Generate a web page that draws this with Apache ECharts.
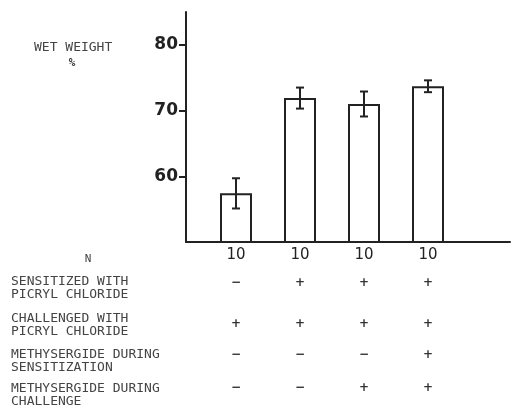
<!DOCTYPE html>
<html>
<head>
<meta charset="utf-8">
<style>
  html, body { margin: 0; padding: 0; background: #fff; }
  #chart { width: 511px; height: 408px; }
</style>
<script src="https://cdn.jsdelivr.net/npm/echarts@6/dist/echarts.min.js"></script>
</head>
<body>
<div id="chart"></div>
<script>
// Treatment groups (one bar each)
const categories = ['Group 1', 'Group 2', 'Group 3', 'Group 4'];
// Mean wet weight (%) and standard error per group
const meanWetWeight = [57.4, 71.9, 71.0, 73.7];
const stdError = [2.3, 1.6, 1.9, 0.9];
// Number of animals per group
const nValues = [10, 10, 10, 10];
// Treatment table rows
const sensitizedPicryl = ['-', '+', '+', '+'];
const challengedPicryl = ['+', '+', '+', '+'];
const methysergideSensitization = ['-', '-', '-', '+'];
const methysergideChallenge = ['-', '-', '+', '+'];
const yTickValues = [60, 70, 80];
const rowTitles = [
  'SENSITIZED WITH\nPICRYL CHLORIDE',
  'CHALLENGED WITH\nPICRYL CHLORIDE',
  'METHYSERGIDE DURING\nSENSITIZATION',
  'METHYSERGIDE DURING\nCHALLENGE'
];

const ink = '#222';
const monoFont = '13px "DejaVu Sans Mono"';

const tableRows = [sensitizedPicryl, challengedPicryl, methysergideSensitization, methysergideChallenge];
const rowOffsets = [41, 82, 113, 146];
const titleTops = [275.5, 312.5, 348.5, 382.5];

const rowAxes = tableRows.map((row, r) => ({
  gridIndex: 0,
  type: 'category',
  data: categories,
  position: 'bottom',
  offset: rowOffsets[r],
  axisLine: { show: false },
  axisTick: { show: false },
  splitLine: { show: false },
  axisLabel: {
    margin: 0,
    verticalAlign: 'middle',
    fontFamily: 'DejaVu Sans',
    fontWeight: 'bold',
    fontSize: 12,
    color: '#333',
    formatter: (v, i) => (row[i] === '-' ? '\u2212' : '+')
  }
}));

const errorData = meanWetWeight.map((m, i) => [i, m - stdError[i], m + stdError[i]]);

const chart = echarts.init(document.getElementById('chart'), null, { renderer: 'canvas' });

chart.setOption({
  animation: false,
  backgroundColor: '#fff',
  grid: [
    { left: 204, width: 256, top: 12, bottom: 166 },
    { left: 186, right: 1, top: 12, bottom: 166 }
  ],
  xAxis: [
    {
      gridIndex: 0,
      type: 'category',
      data: categories,
      axisLine: { show: false },
      axisTick: { show: false },
      splitLine: { show: false },
      axisLabel: {
        margin: 13,
        verticalAlign: 'middle',
        fontFamily: 'DejaVu Sans',
        fontSize: 15,
        color: ink,
        formatter: (v, i) => String(nValues[i])
      }
    },
    {
      gridIndex: 1,
      type: 'value',
      min: 0,
      max: 1,
      axisLine: { show: true, onZero: false, lineStyle: { color: ink, width: 2 } },
      axisTick: { show: false },
      axisLabel: { show: false },
      splitLine: { show: false }
    },
    ...rowAxes
  ],
  yAxis: [
    {
      gridIndex: 0,
      type: 'value',
      min: 50,
      max: 85,
      interval: 10,
      position: 'left',
      offset: 18,
      axisLine: { show: true, onZero: false, lineStyle: { color: ink, width: 2 } },
      axisTick: { show: true, length: 7, customValues: yTickValues, lineStyle: { color: ink, width: 2 } },
      axisLabel: {
        customValues: yTickValues,
        margin: 8,
        fontFamily: 'DejaVu Sans',
        fontWeight: 'bold',
        fontSize: 17,
        color: ink
      },
      splitLine: { show: false }
    },
    { gridIndex: 1, type: 'value', show: false }
  ],
  graphic: [
    {
      type: 'text', x: 34, y: 48,
      style: { text: 'WET WEIGHT', font: monoFont, fill: '#444', verticalAlign: 'middle' }
    },
    {
      type: 'text', x: 72, y: 63,
      style: { text: '%', font: 'bold 11px "DejaVu Sans Mono"', fill: '#333', align: 'center', verticalAlign: 'middle' }
    },
    {
      type: 'text', x: 88, y: 259,
      style: { text: 'N', font: '11px "DejaVu Sans Mono"', fill: '#444', align: 'center', verticalAlign: 'middle' }
    },
    ...rowTitles.map((t, r) => ({
      type: 'text', x: 11, y: titleTops[r],
      style: { text: t, font: monoFont, lineHeight: 13, fill: '#444', verticalAlign: 'top' }
    }))
  ],
  series: [
    {
      type: 'bar',
      xAxisIndex: 0,
      yAxisIndex: 0,
      data: meanWetWeight,
      barWidth: 32,
      itemStyle: { color: '#fff', borderColor: ink, borderWidth: 2 }
    },
    {
      type: 'custom',
      xAxisIndex: 0,
      yAxisIndex: 0,
      data: errorData,
      encode: { x: 0, y: [1, 2] },
      z: 3,
      renderItem: (params, api) => {
        const idx = api.value(0);
        const lo = api.coord([idx, api.value(1)]);
        const hi = api.coord([idx, api.value(2)]);
        const cap = 4;
        const style = { stroke: ink, lineWidth: 2 };
        return {
          type: 'group',
          children: [
            { type: 'line', shape: { x1: lo[0], y1: lo[1], x2: hi[0], y2: hi[1] }, style },
            { type: 'line', shape: { x1: hi[0] - cap, y1: hi[1], x2: hi[0] + cap, y2: hi[1] }, style },
            { type: 'line', shape: { x1: lo[0] - cap, y1: lo[1], x2: lo[0] + cap, y2: lo[1] }, style }
          ]
        };
      }
    }
  ]
});
</script>
</body>
</html>
